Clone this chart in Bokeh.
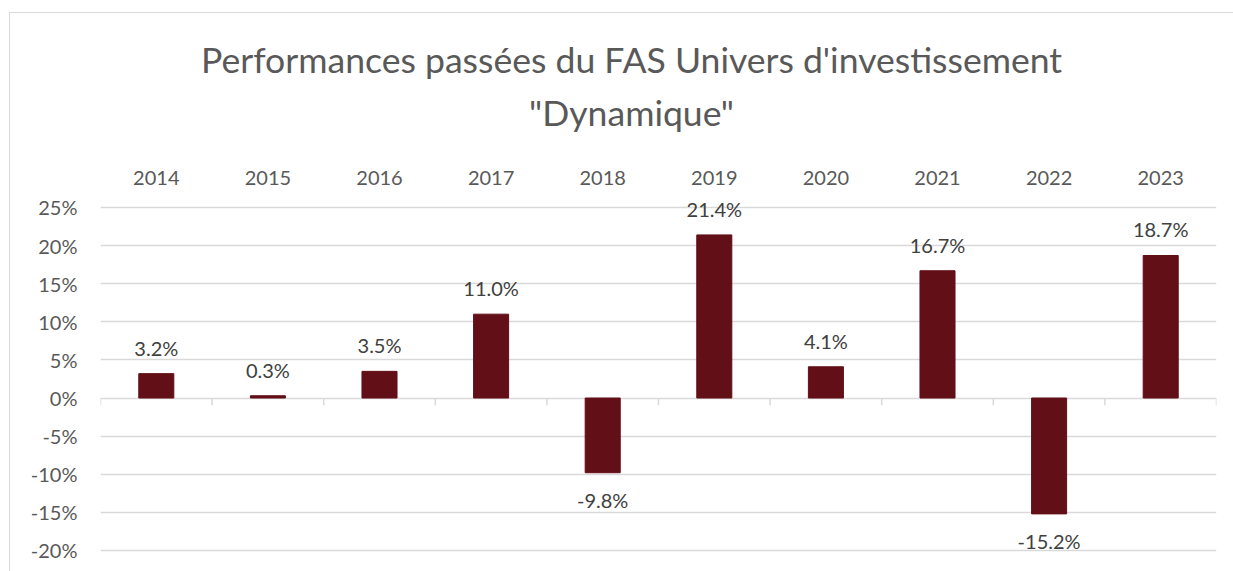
from bokeh.plotting import figure
from bokeh.layouts import column
from bokeh.models import ColumnDataSource, FixedTicker, PrintfTickFormatter
from bokeh.transform import dodge
from bokeh.core.properties import value
from bokeh.embed import file_html
from bokeh.resources import INLINE

# ---- data ----
years = ["2014", "2015", "2016", "2017", "2018", "2019", "2020", "2021", "2022", "2023"]
perf = [3.2, 0.3, 3.5, 11.0, -9.8, 21.4, 4.1, 16.7, -15.2, 18.7]
y_ticks = [-20, -15, -10, -5, 0, 5, 10, 15, 20, 25]
title_lines = ["Performances passées du FAS Univers d'investissement", "\"Dynamique\""]

FONT = "Lato"
BAR = "#620f17"
GRID = "#d9d9d9"
W = 1223
TITLE_H = 130

# ---- title strip (its own small canvas, pixel-like ranges, no axes) ----
t = figure(x_range=(0, W), y_range=(0, TITLE_H), width=W, height=TITLE_H,
           output_backend="svg", toolbar_location=None, title=None,
           x_axis_location=None, y_axis_location=None,
           min_border=0, min_border_left=0, min_border_right=0,
           min_border_top=0, min_border_bottom=0)
t.grid.visible = False
t.outline_line_color = None
t.background_fill_color = "white"
t.border_fill_color = "white"
t.text(x=[582, 582], y=[84, 31], text=title_lines,
       text_align="center", text_baseline="alphabetic", text_font=value(FONT),
       text_font_size="35.6px", text_color="#595959")

# ---- main chart ----
labels = [f"{v:.1f}%" for v in perf]
pos = ColumnDataSource(dict(year=[y for y, v in zip(years, perf) if v >= 0],
                            perf=[v for v in perf if v >= 0],
                            label=[l for l, v in zip(labels, perf) if v >= 0]))
neg = ColumnDataSource(dict(year=[y for y, v in zip(years, perf) if v < 0],
                            perf=[v for v in perf if v < 0],
                            label=[l for l, v in zip(labels, perf) if v < 0]))
src = ColumnDataSource(dict(year=years, perf=perf))

p = figure(x_range=years, y_range=(-22.76, 26.44), width=W, height=558 - TITLE_H,
           output_backend="svg", toolbar_location=None, x_axis_location="above",
           min_border_left=90, min_border_right=17, min_border_top=183 - TITLE_H,
           min_border_bottom=0)
p.outline_line_color = None
p.background_fill_color = "white"
p.border_fill_color = "white"

# grid
p.xgrid.grid_line_color = None
p.ygrid.ticker = FixedTicker(ticks=y_ticks)
p.ygrid.grid_line_color = GRID
p.ygrid.grid_line_width = 1.3

# y axis
yax = p.yaxis[0]
yax.ticker = FixedTicker(ticks=y_ticks)
yax.formatter = PrintfTickFormatter(format="%d%%")
yax.axis_line_color = None
yax.major_tick_line_color = None
yax.minor_tick_line_color = None
yax.major_tick_out = 0
yax.major_tick_in = 0
yax.major_label_standoff = 23
yax.major_label_text_font = FONT
yax.major_label_text_font_size = "20px"
yax.major_label_text_color = "#595959"

# x axis (labels on top)
xax = p.xaxis[0]
xax.axis_line_color = None
xax.major_tick_line_color = None
xax.major_tick_out = 0
xax.major_tick_in = 0
xax.major_label_standoff = 12
xax.major_label_text_font = FONT
xax.major_label_text_font_size = "20px"
xax.major_label_text_color = "#595959"

# zero line tick marks at category boundaries
p.segment(x0=dodge("year", -0.5, range=p.x_range), y0=0,
          x1=dodge("year", -0.5, range=p.x_range), y1=-0.95,
          source=src, line_color=GRID, line_width=1.5)
last = ColumnDataSource(dict(year=years[-1:]))
p.segment(x0=dodge("year", 0.5, range=p.x_range), y0=0,
          x1=dodge("year", 0.5, range=p.x_range), y1=-0.95,
          source=last, line_color=GRID, line_width=1.5)

# bars
p.vbar(x="year", top="perf", width=0.314, source=src, fill_color=BAR, line_color=BAR)

# data labels
p.text(x="year", y="perf", text="label", source=pos, text_align="center",
       text_baseline="bottom", y_offset=-14, text_font=value(FONT),
       text_font_size="20px", text_color="#404040")
p.text(x="year", y="perf", text="label", source=neg, text_align="center",
       text_baseline="top", y_offset=15, text_font=value(FONT),
       text_font_size="20px", text_color="#404040")

layout = column(t, p, spacing=0, margin=(12, 0, 0, 9))
layout.styles = {"border-top": "1px solid #d9d9d9", "border-left": "1px solid #d9d9d9"}

open("out.html", "w").write(file_html(layout, INLINE))
